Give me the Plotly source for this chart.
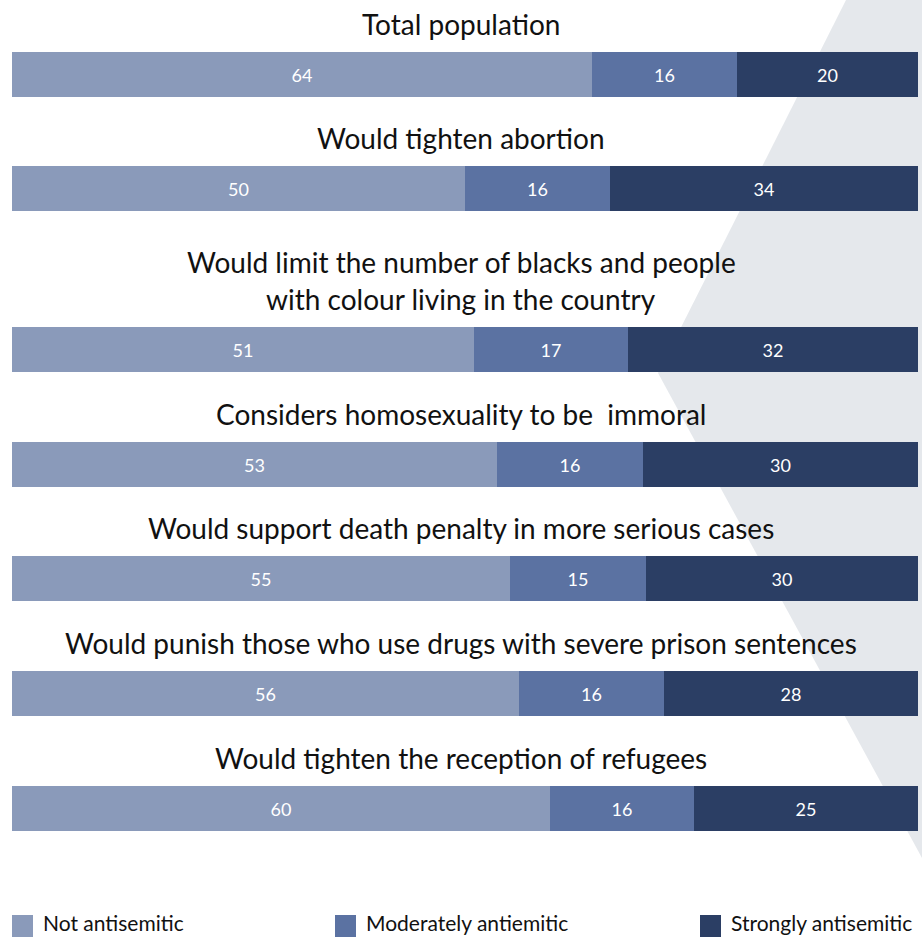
import plotly.graph_objects as go

# ---------------- data ----------------
categories = [
    "Total population",
    "Would tighten abortion",
    "Would limit the number of blacks and people\nwith colour living in the country",
    "Considers homosexuality to be  immoral",
    "Would support death penalty in more serious cases",
    "Would punish those who use drugs with severe prison sentences",
    "Would tighten the reception of refugees",
]
not_antisemitic = [64, 50, 51, 53, 55, 56, 60]
moderately = [16, 16, 17, 16, 15, 16, 16]
strongly = [20, 34, 32, 30, 30, 28, 25]
series_names = ["Not antisemitic", "Moderately antiemitic", "Strongly antisemitic"]

# ---------------- style / layout constants ----------------
W, H = 922, 939
COLORS = ["#8a9aba", "#5b72a2", "#2b3e64"]
BG_GRAY = "#e5e8ec"
FONT = "Lato, 'Open Sans', sans-serif"
X_LEFT, X_RIGHT = 12, 918            # pixel extent of a full (100%) bar
TOP0, PITCH, EXTRA_LINE = 51.7, 114.7, 45.9
BAR_H = 45
TITLE_GAP = 28
LINE_SPACING = 37

units = (X_RIGHT - X_LEFT) / 100.0
x_range = [-X_LEFT / units, 100 + (W - X_RIGHT) / units]

# vertical slots derived from the number of title lines
bar_centers = []
extra = 0
for i, cat in enumerate(categories):
    extra += cat.count("\n")
    top = TOP0 + i * PITCH + extra * EXTRA_LINE
    bar_centers.append(top + BAR_H / 2)

series = [not_antisemitic, moderately, strongly]
totals = [sum(v) for v in zip(*series)]

fig = go.Figure()
for name, vals, col in zip(series_names, series, COLORS):
    shares = [v / t * 100 for v, t in zip(vals, totals)]
    fig.add_trace(go.Bar(
        x=shares, y=bar_centers, orientation="h", width=BAR_H,
        name=name, marker=dict(color=col, line=dict(width=0)),
        text=[str(v) for v in vals], texttemplate="%{text}",
        textposition="inside", insidetextanchor="middle", textangle=0,
        textfont=dict(color="white", size=18, family=FONT),
        hoverinfo="skip", showlegend=False,
    ))

annotations = []
for cat, yc in zip(categories, bar_centers):
    lines = cat.split("\n")
    bar_top = yc - BAR_H / 2
    n = len(lines)
    for j, line in enumerate(lines):
        y = bar_top - TITLE_GAP - (n - 1 - j) * LINE_SPACING
        annotations.append(dict(
            x=0.5, xref="paper", y=y, yref="y", text=line, showarrow=False,
            xanchor="center", yanchor="middle",
            font=dict(size=28, color="#111111", family=FONT),
        ))

# background wedge and manual legend
shapes = [dict(
    type="path", xref="paper", yref="paper", layer="below",
    path=f"M {846/W} 1 L 1 1 L 1 {1-858/H} L {658/W} {1-373/H} Z",
    fillcolor=BG_GRAY, line=dict(width=0),
)]
legend_x = [12, 335, 700]
SQ_Y, TXT_Y = 926, 922
for nm, col, lx in zip(series_names, COLORS, legend_x):
    shapes.append(dict(type="rect", xref="paper", yref="paper",
                       x0=lx / W, x1=(lx + 21) / W,
                       y0=1 - (SQ_Y + 11) / H, y1=1 - (SQ_Y - 11) / H,
                       fillcolor=col, line=dict(width=0)))
    annotations.append(dict(
        x=(lx + 29) / W, xref="paper", y=1 - TXT_Y / H, yref="paper",
        text=nm, showarrow=False, xanchor="left", yanchor="middle",
        font=dict(size=21, color="#111111", family=FONT),
    ))

fig.update_layout(
    width=W, height=H, margin=dict(l=0, r=0, t=0, b=0),
    barmode="stack", bargap=0,
    paper_bgcolor="white", plot_bgcolor="rgba(0,0,0,0)",
    xaxis=dict(range=x_range, visible=False, fixedrange=True),
    yaxis=dict(range=[H, 0], visible=False, fixedrange=True),
    uniformtext=dict(minsize=18, mode="show"),
    shapes=shapes, annotations=annotations,
    font=dict(family=FONT),
)

fig.write_html("out.html")
